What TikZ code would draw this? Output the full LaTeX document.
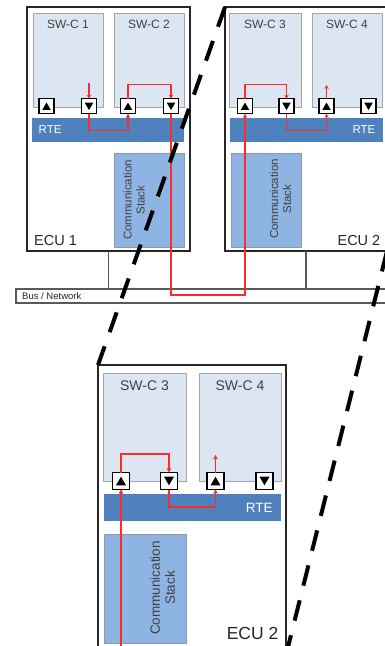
\documentclass[tikz,border=0pt]{standalone}
\usepackage{fontspec}
\setmainfont{Liberation Sans}
\usetikzlibrary{arrows.meta,calc}
\definecolor{swcfill}{HTML}{DCE6F2}
\definecolor{swcline}{HTML}{A6A6A6}
\definecolor{rtefill}{HTML}{4F81BD}
\definecolor{csfill}{HTML}{8DB4E2}
\definecolor{csline}{HTML}{8E9AAA}
\definecolor{eculine}{HTML}{262626}
\definecolor{txtgray}{HTML}{404040}
\definecolor{sigred}{HTML}{FF2A2A}
\definecolor{busline}{HTML}{595959}
\begin{document}
\begin{tikzpicture}[x=1pt,y=-1pt,
  box/.style={rectangle, inner sep=0pt, outer sep=0pt},
  ecu/.style={box, draw=eculine, line width=2pt, fill=white},
  swc/.style={box, draw=swcline, line width=0.8pt, fill=swcfill},
  rte/.style={box, fill=rtefill},
  cstack/.style={box, draw=csline, line width=0.8pt, fill=csfill},
  port/.style={box, draw=black, line width=1.1pt, fill=white, minimum size=15pt},
  portup/.style={port, path picture={\fill[black] ($(path picture bounding box.center)+(-4.25pt,-3.6pt)$) -- ++(8.5pt,0pt) -- ++(-4.25pt,7.4pt) -- cycle;}},
  portdown/.style={port, path picture={\fill[black] ($(path picture bounding box.center)+(-4.25pt,3.6pt)$) -- ++(8.5pt,0pt) -- ++(-4.25pt,-7.4pt) -- cycle;}},
  bport/.style={box, draw=black, line width=1.3pt, fill=white, minimum size=17pt},
  bportup/.style={bport, path picture={\fill[black] ($(path picture bounding box.center)+(-5pt,-4.3pt)$) -- ++(10pt,0pt) -- ++(-5pt,8.6pt) -- cycle;}},
  bportdown/.style={bport, path picture={\fill[black] ($(path picture bounding box.center)+(-5pt,4.3pt)$) -- ++(10pt,0pt) -- ++(-5pt,-8.6pt) -- cycle;}},
  swclbl/.style={inner sep=0pt, anchor=base, text=txtgray, font=\fontsize{12}{14}\selectfont},
  bswclbl/.style={inner sep=0pt, anchor=base, text=txtgray, font=\fontsize{14}{16}\selectfont},
  rtelbl/.style={inner sep=0pt, text=white, font=\fontsize{11.5}{13}\selectfont},
  brtelbl/.style={inner sep=0pt, text=white, font=\fontsize{13.5}{15}\selectfont},
  eculbl/.style={inner sep=0pt, text=eculine, font=\fontsize{14.5}{16}\selectfont},
  beculbl/.style={inner sep=0pt, text=eculine, font=\fontsize{17.5}{19}\selectfont},
  cslbl/.style={inner sep=0pt, rotate=90, align=center, text=txtgray, font=\fontsize{11.5}{13}\selectfont},
  bcslbl/.style={inner sep=0pt, rotate=90, align=center, text=txtgray, font=\fontsize{13.5}{15}\selectfont},
  sig/.style={draw=sigred, line width=1.5pt},
  sigarrow/.style={sig, -{Stealth[length=4pt,width=4.5pt]}},
  bsigarrow/.style={draw=sigred, line width=1.6pt, -{Stealth[length=4.5pt,width=5pt]}},
  zoomline/.style={draw=black, line width=4pt, dash pattern=on 21pt off 15pt}
]
\useasboundingbox (0,0) rectangle (385,646);
\clip (0,0) rectangle (385,646);

% ---------- top view ----------
\node[ecu, minimum width=163pt, minimum height=244pt] (ecu1) at (108.5,129) {};
\node[ecu, minimum width=162pt, minimum height=244pt] (ecu2) at (306,129) {};

\node[swc, minimum width=70pt, minimum height=94pt] (swc1) at (68,60) {};
\node[swc, minimum width=70pt, minimum height=94pt] (swc2) at (149,60) {};
\node[swc, minimum width=72pt, minimum height=94pt] (swc3) at (265,60) {};
\node[swc, minimum width=70pt, minimum height=94pt] (swc4) at (347,60) {};
\node[swclbl] (l1) at (68,28.3) {SW-C 1};
\node[swclbl] (l2) at (149,28.3) {SW-C 2};
\node[swclbl] (l3) at (265,28.3) {SW-C 3};
\node[swclbl] (l4) at (347,28.3) {SW-C 4};

\node[rte, minimum width=152pt, minimum height=24pt] (rte1) at (108,130) {};
\node[rte, minimum width=153pt, minimum height=24pt] (rte2) at (306.5,130) {};
\node[rtelbl, anchor=base west] (rl1) at (38.5,133.5) {RTE};
\node[rtelbl, anchor=base east] (rl2) at (375.5,133.5) {RTE};

\node[cstack, minimum width=70pt, minimum height=94pt] (cs1) at (149,200) {};
\node[cstack, minimum width=70pt, minimum height=94pt] (cs2) at (266,200) {};
\node[cslbl] (csl1) at (134,200) {Communication\\Stack};
\node[cslbl] (csl2) at (280.5,199) {Communication\\Stack};

\node[eculbl, anchor=base west] (el1) at (34,245) {ECU 1};
\node[eculbl, anchor=base east] (el2) at (380.5,245) {ECU 2};

\node[portup] (p1) at (46.5,106.3) {};
\node[portdown] (p2) at (89,106.3) {};
\node[portup] (p3) at (128,106.3) {};
\node[portdown] (p4) at (171,106.3) {};
\node[portup] (q1) at (245,106.3) {};
\node[portdown] (q2) at (286.5,106.3) {};
\node[portup] (q3) at (326.5,106.3) {};
\node[portdown] (q4) at (368.5,106.3) {};

\node[box, draw=busline, line width=1.2pt, fill=white, minimum width=374pt, minimum height=14pt] (bus) at (203,296) {};
\node[inner sep=0pt, anchor=base west, text=eculine, font=\fontsize{9.5}{11}\selectfont] (bl) at (22,299) {Bus / Network};
\draw[busline, line width=1.2pt] (ecu1.south) -- (ecu1.south |- bus.north);
\draw[busline, line width=1.2pt] (ecu2.south) -- (ecu2.south |- bus.north);

\coordinate (in2) at (89,83);
\coordinate (out3) at (326.5,85);
\draw[sigarrow] (in2) -- (p2.north);
\draw[sigarrow] (p2.south) -- ++(0,16.5) -| (p3.south);
\draw[sigarrow] (p3.north) -- ++(0,-14.5) -| (p4.north);
\draw[sigarrow] (p4.south) -- (p4.south |- 0,295) -| (q1.south);
\draw[sigarrow] (q1.north) -- ++(0,-14.5) -| (q2.north);
\draw[sigarrow] (q2.south) -- ++(0,16.5) -| (q3.south);
\draw[sigarrow] (q3.north) -- (out3);

% ---------- zoomed ECU 2 ----------
\node[ecu, line width=2.2pt, minimum width=188pt, minimum height=290pt] (ecub) at (192,510) {};
\node[swc, minimum width=83pt, minimum height=108pt] (swcb3) at (144.5,427) {};
\node[swc, minimum width=82pt, minimum height=108pt] (swcb4) at (240,427) {};
\node[bswclbl] (lb3) at (144.5,390) {SW-C 3};
\node[bswclbl] (lb4) at (240,390) {SW-C 4};

\node[rte, minimum width=177pt, minimum height=27pt] (rteb) at (192.5,507.5) {};
\node[brtelbl, anchor=base east] (rlb) at (272.8,512) {RTE};

\node[cstack, minimum width=82pt, minimum height=109pt] (csb) at (145,588.5) {};
\node[bcslbl] (cslb) at (162.5,588) {Communication\\Stack};
\node[beculbl, anchor=base east] (elb) at (278.5,639.5) {ECU 2};

\node[bportup] (b1) at (121,481) {};
\node[bportdown] (b2) at (169,481) {};
\node[bportup] (b3) at (215.5,481) {};
\node[bportdown] (b4) at (264.5,481) {};

\coordinate (inb) at (121,652);
\coordinate (outb) at (215.5,455);
\draw[bsigarrow] (inb) -- (b1.south);
\draw[bsigarrow] (b1.north) -- ++(0,-18.5) -| (b2.north);
\draw[bsigarrow] (b2.south) -- ++(0,17.5) -| (b3.south);
\draw[bsigarrow] (b3.north) -- (outb);

% ---------- zoom lines ----------
\draw[zoomline] (ecu2.north west) -- (ecub.north west);
\draw[zoomline] (ecu2.south east) -- (ecub.south east);
\end{tikzpicture}
\end{document}
